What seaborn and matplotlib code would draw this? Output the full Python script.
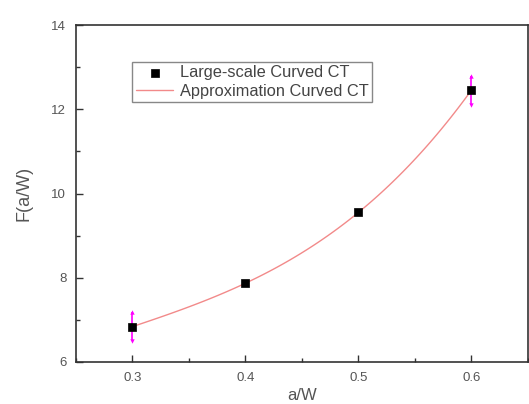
import numpy as np
import pandas as pd
from matplotlib import pyplot as plt
from matplotlib.ticker import MultipleLocator
import seaborn as sns

a_w = [0.3, 0.4, 0.5, 0.6]
f_aw = [6.84, 7.87, 9.55, 12.45]
f_err = [0.35, 0.0, 0.0, 0.35]

df = pd.DataFrame({'a/W': a_w, 'F(a/W)': f_aw, 'err': f_err})

sns.set_style('ticks')
plt.rcParams['font.family'] = ['Liberation Sans', 'DejaVu Sans']

fig = plt.figure(figsize=(5.29, 4.04), dpi=100)
ax = fig.add_axes([0.1437, 0.104, 0.854, 0.834])

# cubic approximation of the measured points
sns.regplot(data=df, x='a/W', y='F(a/W)', order=3, ci=None, scatter=False,
            line_kws={'color': '#f28a8a', 'lw': 1.0}, ax=ax,
            label='Approximation Curved CT')

# error bars with small arrow tips
has_err = df[df['err'] > 0]
ax.errorbar(has_err['a/W'], has_err['F(a/W)'], yerr=has_err['err'], fmt='none',
            ecolor='#ff00ff', elinewidth=1.2, capsize=0, zorder=3)
ax.scatter(has_err['a/W'], has_err['F(a/W)'] + has_err['err'], marker='^', s=10,
           color='#ff00ff', linewidths=0, zorder=3)
ax.scatter(has_err['a/W'], has_err['F(a/W)'] - has_err['err'], marker='v', s=10,
           color='#ff00ff', linewidths=0, zorder=3)

sns.scatterplot(data=df, x='a/W', y='F(a/W)', marker='s', s=28, color='black',
                edgecolor='black', linewidth=0.5, ax=ax, zorder=4,
                label='Large-scale Curved CT')

ax.set_xlim(0.25, 0.65)
ax.set_ylim(6, 14)
ax.xaxis.set_major_locator(MultipleLocator(0.1))
ax.xaxis.set_minor_locator(MultipleLocator(0.05))
ax.yaxis.set_major_locator(MultipleLocator(2))
ax.yaxis.set_minor_locator(MultipleLocator(1))
ax.xaxis.set_major_formatter(plt.FuncFormatter(lambda v, p: f'{v:.1f}'))
ax.yaxis.set_major_formatter(plt.FuncFormatter(lambda v, p: f'{v:.0f}'))
ax.tick_params(which='both', direction='in', colors='#333333', labelcolor='#555555',
               labelsize=9.5, top=False, right=False)
ax.tick_params(which='major', length=5, width=1, pad=7)
ax.tick_params(which='minor', length=3, width=1)
for sp in ax.spines.values():
    sp.set_visible(True)
    sp.set_color('#333333')
    sp.set_linewidth(1.2)

ax.set_xlabel('a/W', fontsize=12, color='#555555')
ax.set_ylabel('F(a/W)', fontsize=13, color='#555555')
ax.xaxis.set_label_coords(0.5, -0.1)
ax.yaxis.set_label_coords(-0.115, 0.5)
ax.xaxis.label.set_va('center')
ax.yaxis.label.set_va('center')

handles, labels = ax.get_legend_handles_labels()
order = [labels.index('Large-scale Curved CT'), labels.index('Approximation Curved CT')]
leg = ax.legend([handles[i] for i in order], [labels[i] for i in order],
                loc='upper left', bbox_to_anchor=(0.125, 0.89), fontsize=11.8,
                frameon=True, fancybox=False, framealpha=1, edgecolor='#888888',
                borderpad=0.2, labelspacing=0.2, handlelength=2.3,
                handletextpad=0.4, borderaxespad=0)
leg.get_frame().set_linewidth(1.0)
for t in leg.get_texts():
    t.set_color('#444444')

fig.savefig('out.png', dpi=100)
